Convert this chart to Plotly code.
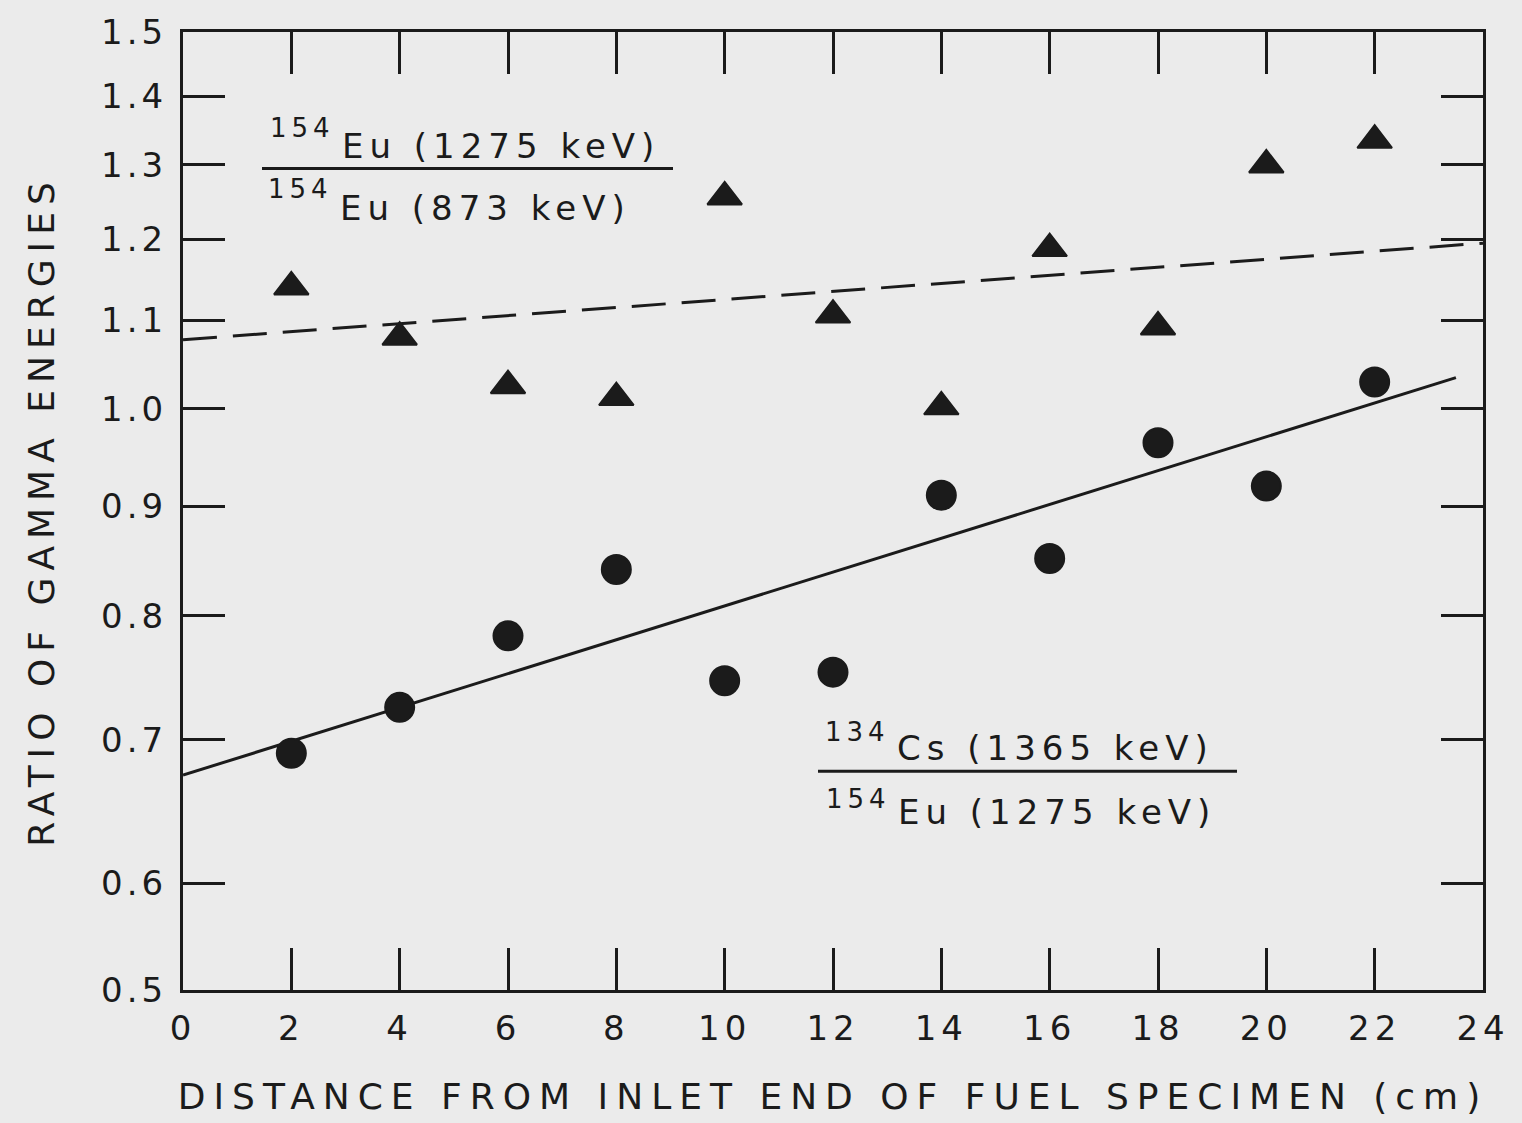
import math
import plotly.graph_objects as go

# ---- data ----
DISTANCE_CM = [2, 4, 6, 8, 10, 12, 14, 16, 18, 20, 22]
EU_RATIO = [1.140, 1.080, 1.025, 1.012, 1.256, 1.106, 1.002, 1.188, 1.092, 1.300, 1.335]
CS_RATIO = [0.690, 0.725, 0.783, 0.841, 0.746, 0.753, 0.911, 0.851, 0.964, 0.920, 1.029]
EU_FIT_X = [0, 24]
EU_FIT_Y = [1.077, 1.195]
CS_FIT_X = [0, 23.5]
CS_FIT_Y = [0.674, 1.034]
X_TICKS = [0, 2, 4, 6, 8, 10, 12, 14, 16, 18, 20, 22, 24]
Y_TICK_VALUES = [0.5348, 0.6, 0.7, 0.8, 0.9, 1.0, 1.1, 1.2, 1.3, 1.4, 1.5]
Y_TICK_LABELS = ["0.5", "0.6", "0.7", "0.8", "0.9", "1.0", "1.1", "1.2", "1.3", "1.4", "1.5"]
X_TITLE = "DISTANCE FROM INLET END OF FUEL SPECIMEN (cm)"
Y_TITLE = "RATIO OF GAMMA ENERGIES"
# fraction labels: (mass number, rest of the label)
EU_LABEL_NUM = ("154", "Eu (1275 keV)")
EU_LABEL_DEN = ("154", "Eu (873 keV)")
CS_LABEL_NUM = ("134", "Cs (1365 keV)")
CS_LABEL_DEN = ("154", "Eu (1275 keV)")

INK = "#1b1b1b"
BG = "#ebebeb"
FONT = "DejaVu Sans"

W, H = 1522, 1123
ML, MR, MT, MB = 183, 39, 25, 130
PW, PH = W - ML - MR, H - MT - MB


def px(x):
    return (x - ML) / PW


def py(y):
    return (H - MB - y) / PH


def spaced(s, sp):
    return f'<span style="letter-spacing:{sp}px">{s}</span>'


fig = go.Figure()

fig.add_trace(go.Scatter(
    x=EU_FIT_X, y=EU_FIT_Y, mode="lines",
    line=dict(color=INK, width=3, dash="34px,16px"),
    hoverinfo="skip", showlegend=False))
fig.add_trace(go.Scatter(
    x=CS_FIT_X, y=CS_FIT_Y, mode="lines",
    line=dict(color=INK, width=3),
    hoverinfo="skip", showlegend=False))
fig.add_trace(go.Scatter(
    x=DISTANCE_CM, y=EU_RATIO, mode="markers",
    marker=dict(symbol="triangle-up", size=30, color=INK,
                line=dict(color=INK, width=2)),
    showlegend=False))
fig.add_trace(go.Scatter(
    x=DISTANCE_CM, y=CS_RATIO, mode="markers",
    marker=dict(symbol="circle", size=29, color=INK,
                line=dict(color=INK, width=2)),
    showlegend=False))

# fraction-style labels
MAIN_SIZE, SUP_SIZE = 34, 26
MAIN_SP, SUP_SP = 6, 5


def iso_label(label, x_left, cap_mid, sup_mid):
    mass, rest = label
    fig.add_annotation(xref="paper", yref="paper", x=px(x_left - 8 + SUP_SP), y=py(sup_mid),
                       xanchor="right", yanchor="middle", showarrow=False,
                       text=spaced(mass, SUP_SP),
                       font=dict(family=FONT, size=SUP_SIZE, color=INK))
    fig.add_annotation(xref="paper", yref="paper", x=px(x_left), y=py(cap_mid),
                       xanchor="left", yanchor="middle", showarrow=False,
                       text=spaced(rest, MAIN_SP),
                       font=dict(family=FONT, size=MAIN_SIZE, color=INK))


fig.add_shape(type="line", xref="paper", yref="paper",
              x0=px(262), x1=px(673), y0=py(163), y1=py(163),
              line=dict(color=INK, width=3))
fig.add_shape(type="line", xref="paper", yref="paper",
              x0=px(818), x1=px(1237), y0=py(772), y1=py(772),
              line=dict(color=INK, width=3))
iso_label(EU_LABEL_NUM, 340, 140, 122)
iso_label(EU_LABEL_DEN, 338, 203, 184)
iso_label(CS_LABEL_NUM, 895, 748, 732)
iso_label(CS_LABEL_DEN, 896, 813, 800)

fig.update_layout(
    width=W, height=H,
    margin=dict(l=ML, r=MR, t=MT, b=MB),
    paper_bgcolor=BG, plot_bgcolor=BG,
    font=dict(family=FONT, color=INK),
    xaxis=dict(
        range=[0, 24], tickmode="array", tickvals=X_TICKS,
        ticktext=[spaced(str(v), 5) for v in X_TICKS],
        ticks="inside", ticklen=42, tickwidth=3, tickcolor=INK,
        showline=True, linewidth=3, linecolor=INK, mirror="ticks",
        showgrid=False, zeroline=False,
        tickfont=dict(family=FONT, size=34, color=INK),
        ticklabelstandoff=6,
        title=dict(text=spaced(X_TITLE, 8), font=dict(family=FONT, size=36, color=INK),
                   standoff=38),
    ),
    yaxis=dict(
        type="log",
        range=[math.log10(Y_TICK_VALUES[0]), math.log10(Y_TICK_VALUES[-1])],
        tickmode="array", tickvals=Y_TICK_VALUES,
        ticktext=[spaced(t, 4) for t in Y_TICK_LABELS],
        ticks="inside", ticklen=42, tickwidth=3, tickcolor=INK,
        showline=True, linewidth=3, linecolor=INK, mirror="ticks",
        showgrid=False, zeroline=False,
        tickfont=dict(family=FONT, size=34, color=INK),
        ticklabelstandoff=6,
        title=dict(text=spaced(Y_TITLE, 7), font=dict(family=FONT, size=36, color=INK),
                   standoff=36),
    ),
)

fig.write_html("out.html", config={"displayModeBar": False},
               post_script="document.body.style.margin='0';")
